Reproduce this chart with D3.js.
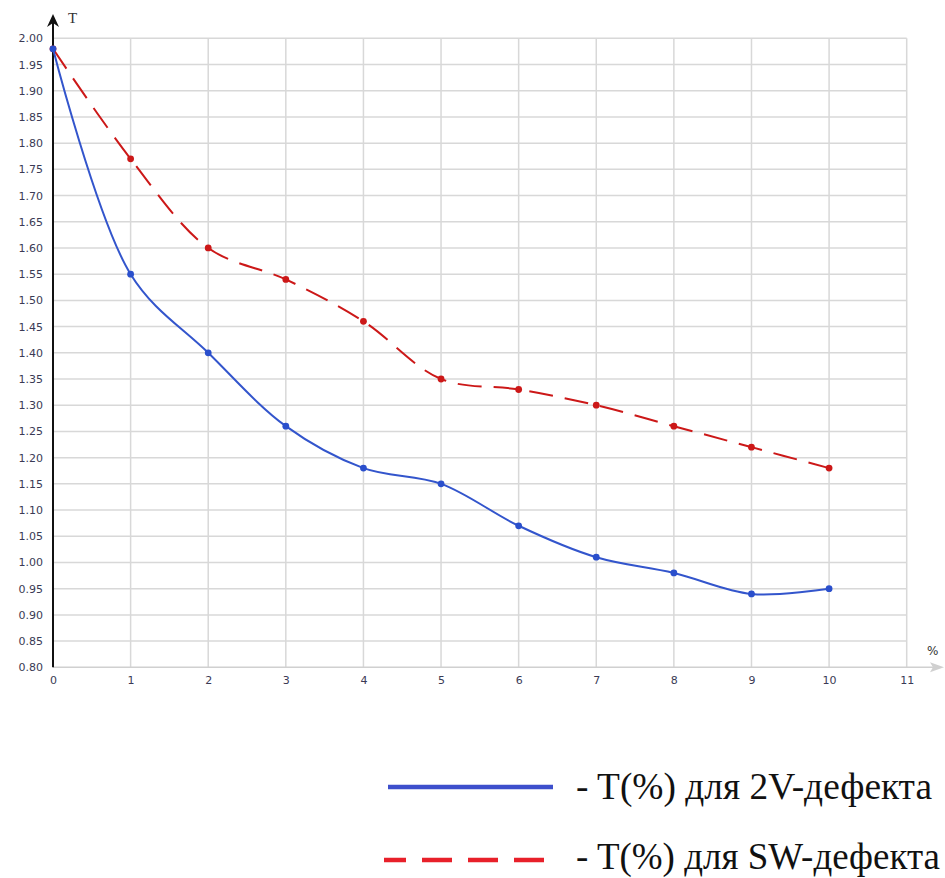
<!DOCTYPE html>
<html><head><meta charset="utf-8">
<script src="https://cdn.jsdelivr.net/npm/d3@7"></script>
<style>body{margin:0;background:#fff}</style>
</head><body>
<svg id="c" width="945" height="878"></svg>
<script>
const xValues = [0,1,2,3,4,5,6,7,8,9,10];
const series2V = [1.98,1.55,1.40,1.26,1.18,1.15,1.07,1.01,0.98,0.94,0.95];
const seriesSW = [1.98,1.77,1.60,1.54,1.46,1.35,1.33,1.30,1.26,1.22,1.18];
const xTicks = [0,1,2,3,4,5,6,7,8,9,10,11];
const yTicks = d3.range(16,41).map(i=>i*0.05);
const legendLabels = ["- T(%) для 2V-дефекта","- T(%) для SW-дефекта"];

const svg = d3.select("#c");
const x = d3.scaleLinear().domain([0,11]).range([53,906.7]);
const y = d3.scaleLinear().domain([0.8,2.0]).range([667.3,38.3]);

// grid
svg.append("g").selectAll("line").data(yTicks.slice(1)).join("line")
  .attr("x1",x(0)).attr("x2",x(11)).attr("y1",d=>y(d)).attr("y2",d=>y(d))
  .attr("stroke","#d8d8d8").attr("stroke-width",1.5);
svg.append("g").selectAll("line").data(xTicks.slice(1)).join("line")
  .attr("x1",d=>x(d)).attr("x2",d=>x(d)).attr("y1",y(2.0)).attr("y2",y(0.8))
  .attr("stroke","#d8d8d8").attr("stroke-width",1.5);

// x axis (gray with arrow)
svg.append("line").attr("x1",x(0)).attr("x2",938).attr("y1",y(0.8)).attr("y2",y(0.8))
  .attr("stroke","#d0d0d0").attr("stroke-width",1.5);
svg.append("path").attr("d",`M944,${y(0.8)} L930,${y(0.8)-5} L933,${y(0.8)} L930,${y(0.8)+5} Z`).attr("fill","#d0d0d0");
// y axis (black with arrow)
svg.append("line").attr("x1",x(0)).attr("x2",x(0)).attr("y1",y(0.8)).attr("y2",20)
  .attr("stroke","#111").attr("stroke-width",2);
svg.append("path").attr("d",`M${x(0)},14 L${x(0)-6},27 L${x(0)},23 L${x(0)+6},27 Z`).attr("fill","#111");

// tick labels
const tickColor = "#3a3a55";
const yAxis = d3.axisLeft(y).tickValues(yTicks).tickFormat(d3.format(".2f")).tickSize(0).tickPadding(10);
const gy = svg.append("g").attr("transform",`translate(${x(0)},0)`).call(yAxis);
gy.select(".domain").remove();
gy.selectAll("text").attr("fill",tickColor).style("font-family","DejaVu Sans, Verdana, sans-serif").style("font-size","11px");
const xAxis = d3.axisBottom(x).tickValues(xTicks).tickFormat(d3.format("d")).tickSize(0).tickPadding(9);
const gx = svg.append("g").attr("transform",`translate(0,${y(0.8)})`).call(xAxis);
gx.select(".domain").remove();
gx.selectAll("text").attr("fill",tickColor).style("font-family","DejaVu Sans, Verdana, sans-serif").style("font-size","11px");

svg.append("text").attr("x",68).attr("y",23).text("T").attr("fill","#333")
  .style("font-family","Liberation Serif, serif").style("font-size","15px");
svg.append("text").attr("x",927).attr("y",655).text("%").attr("fill","#333")
  .style("font-family","DejaVu Sans, sans-serif").style("font-size","12px");

// lines
const line = d3.line().x((d,i)=>x(xValues[i])).y(d=>y(d)).curve(d3.curveCatmullRom.alpha(0.5));
svg.append("path").datum(seriesSW).attr("d",line).attr("fill","none")
  .attr("stroke","#cc1818").attr("stroke-width",2).attr("stroke-dasharray","24,12");
svg.append("g").selectAll("circle").data(seriesSW).join("circle")
  .attr("cx",(d,i)=>x(xValues[i])).attr("cy",d=>y(d)).attr("r",3.4).attr("fill","#cc1818");
svg.append("path").datum(series2V).attr("d",line).attr("fill","none")
  .attr("stroke","#3355cc").attr("stroke-width",2);
svg.append("g").selectAll("circle").data(series2V).join("circle")
  .attr("cx",(d,i)=>x(xValues[i])).attr("cy",d=>y(d)).attr("r",3.4).attr("fill","#2a4fcc");

// legend
svg.append("line").attr("x1",388).attr("x2",553).attr("y1",787).attr("y2",787)
  .attr("stroke","#3d4fcc").attr("stroke-width",4.5);
svg.append("line").attr("x1",384).attr("x2",553).attr("y1",860).attr("y2",860)
  .attr("stroke","#e8202a").attr("stroke-width",4.5).attr("stroke-dasharray","30,16").attr("stroke-dashoffset",8);
const legendWidths = [356,364];
const legendBaselines = [799,869];
svg.selectAll(".lg").data(legendLabels).join("text").attr("class","lg")
  .attr("x",576).attr("y",(d,i)=>legendBaselines[i]).text(d=>d).attr("fill","#111")
  .attr("textLength",(d,i)=>legendWidths[i]).attr("lengthAdjust","spacingAndGlyphs")
  .style("font-family","Liberation Serif, Times New Roman, serif").style("font-size","37px");
</script>
</body></html>
